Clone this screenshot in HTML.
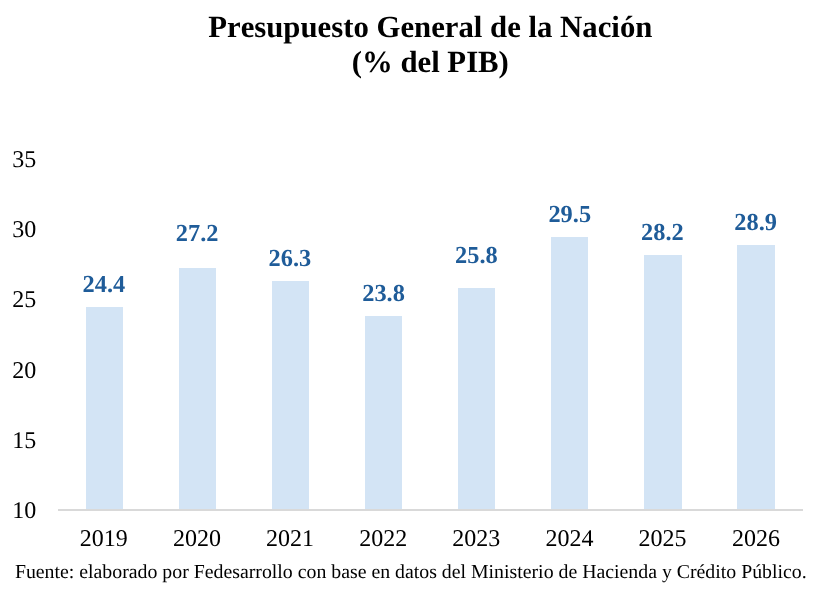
<!DOCTYPE html>
<html>
<head>
<meta charset="utf-8">
<title>Presupuesto General de la Nación</title>
<style>
html,body{margin:0;padding:0;background:#fff;}
body{width:819px;height:590px;overflow:hidden;font-family:"Liberation Serif",serif;}
svg{display:block;will-change:transform;}
text{font-family:"Liberation Serif",serif;font-kerning:none;text-rendering:geometricPrecision;}
.title{font-weight:bold;font-size:30.76px;fill:#000;text-anchor:middle;}
.ax{font-size:24px;fill:#000;}
.yl{text-anchor:end;}
.xl{text-anchor:middle;}
.dl{font-weight:bold;font-size:24.4px;fill:#1f5c99;text-anchor:middle;}
.src{font-size:19.825px;fill:#000;}
.bar{fill:#d3e4f5;}
</style>
</head>
<body>
<svg width="819" height="590" viewBox="0 0 819 590">
<rect x="0" y="0" width="819" height="590" fill="#ffffff"/>
<!-- title -->
<text class="title" x="430.3" y="37.2">Presupuesto General de la Nación</text>
<text class="title" x="430.3" y="71.8">(% del PIB)</text>
<!-- y axis labels -->
<text class="ax yl" transform="translate(36.3 167.0)">35</text>
<text class="ax yl" transform="translate(36.3 237.0)">30</text>
<text class="ax yl" transform="translate(36.3 307.0)">25</text>
<text class="ax yl" transform="translate(36.3 377.8)">20</text>
<text class="ax yl" transform="translate(36.3 447.9)">15</text>
<text class="ax yl" transform="translate(36.3 517.9)">10</text>
<!-- bars -->
<rect class="bar" x="86" y="307" width="37" height="203"/>
<rect class="bar" x="179" y="268" width="37" height="242"/>
<rect class="bar" x="272" y="281" width="37" height="229"/>
<rect class="bar" x="365" y="316" width="37" height="194"/>
<rect class="bar" x="458" y="288" width="37" height="222"/>
<rect class="bar" x="551" y="237" width="37" height="273"/>
<rect class="bar" x="644" y="255" width="38" height="255"/>
<rect class="bar" x="737" y="245" width="38" height="265"/>
<!-- axis line -->
<rect x="58" y="509" width="745" height="2" fill="#d9d9d9"/>
<!-- data labels -->
<text class="dl" transform="translate(103.85 292.35)">24.4</text>
<text class="dl" transform="translate(197.15 240.6)">27.2</text>
<text class="dl" transform="translate(289.95 265.55)">26.3</text>
<text class="dl" transform="translate(383.55 300.6)">23.8</text>
<text class="dl" transform="translate(476.4 263.4)">25.8</text>
<text class="dl" transform="translate(569.75 222.2)">29.5</text>
<text class="dl" transform="translate(662.35 239.65)">28.2</text>
<text class="dl" transform="translate(755.7 229.65)">28.9</text>
<!-- x axis labels -->
<text class="ax xl" transform="translate(103.8 546.1)">2019</text>
<text class="ax xl" transform="translate(197.1 546.1)">2020</text>
<text class="ax xl" transform="translate(290.1 546.1)">2021</text>
<text class="ax xl" transform="translate(383.35 546.1)">2022</text>
<text class="ax xl" transform="translate(476.3 546.1)">2023</text>
<text class="ax xl" transform="translate(569.6 546.1)">2024</text>
<text class="ax xl" transform="translate(662.55 546.1)">2025</text>
<text class="ax xl" transform="translate(756.0 546.1)">2026</text>
<!-- source -->
<text class="src" x="14.9" y="578.3">Fuente: elaborado por Fedesarrollo con base en datos del Ministerio de Hacienda y Crédito Público.</text>
</svg>
</body>
</html>
